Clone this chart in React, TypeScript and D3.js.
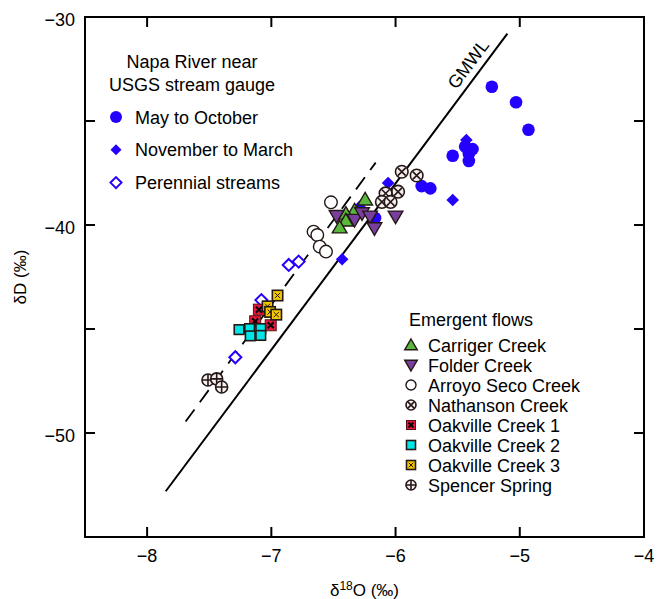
import React from 'react';
import * as d3 from 'd3';

const width = 661;
const height = 599;
const margin = { top: 17, right: 17, bottom: 62, left: 85 };
const font = 'Liberation Sans, Arial, Helvetica, sans-serif';

// axis ticks
const xTicks = [-8, -7, -6, -5, -4];
const yTicks = [-30, -35, -40, -45, -50, -55];
const yLabelTicks = [-30, -40, -50];

// Napa River near USGS stream gauge  [δ18O, δD]
const mayToOctober = [
  [-5.225, -33.35], [-5.03, -34.1], [-4.93, -35.42], [-5.54, -36.67], [-5.44, -36.23],
  [-5.38, -36.35], [-5.41, -36.59], [-5.41, -36.92], [-5.79, -38.13], [-5.72, -38.24],
  [-6.165, -39.66],
];
const novemberToMarch = [
  [-5.43, -35.91], [-6.06, -37.98], [-5.54, -38.8], [-6.43, -41.65], [-6.29, -39.12],
];
const perennialStreams = [
  [-6.86, -41.92], [-6.78, -41.76], [-7.08, -43.61], [-7.29, -46.36],
];

// Emergent flows
const carrigerCreek = [
  [-6.245, -38.77], [-6.33, -39.3], [-6.4, -39.45], [-6.4, -39.78], [-6.45, -40.11],
];
const folderCreek = [
  [-6.475, -39.57], [-6.33, -39.76], [-6.27, -39.44], [-6.205, -39.6], [-6.17, -40.16], [-6.0, -39.6],
];
const arroyoSecoCreek = [
  [-6.52, -38.91], [-6.66, -40.32], [-6.63, -40.48], [-6.61, -41.04], [-6.56, -41.28],
];
const nathansonCreek = [
  [-5.95, -37.44], [-5.83, -37.62], [-5.98, -38.4], [-6.08, -38.48], [-6.11, -38.89], [-6.04, -38.89],
];
const oakvilleCreek1 = [[-7.1, -44.07], [-7.13, -44.63], [-7.005, -44.82]];
const oakvilleCreek2 = [
  [-7.26, -45.03], [-7.175, -44.98], [-7.085, -44.98], [-7.17, -45.33], [-7.085, -45.31],
];
const oakvilleCreek3 = [[-6.95, -43.39], [-7.03, -43.91], [-7.01, -44.18], [-6.96, -44.31]];
const spencerSpring = [[-7.51, -47.45], [-7.44, -47.4], [-7.4, -47.79]];

// lines
const gmwlRange = [-7.85, -5.1]; // δD = 8 δ18O + 10
const localLine = [[-7.69, -49.45], [-6.16, -37.0]];

const BLUE = '#2400ff';
const EDGE = '#231815';

// draws one marker centred at 0,0
const Marker = ({ type, s }) => {
  switch (type) {
    case 'dot':
      return <circle r={s} fill={BLUE} />;
    case 'diamond':
      return <path d={`M0,${-s}L${s},0L0,${s}L${-s},0Z`} fill={BLUE} />;
    case 'openDiamond':
      return <path d={`M0,${-s}L${s},0L0,${s}L${-s},0Z`} fill="white" stroke={BLUE} strokeWidth={2} />;
    case 'triUp':
      return <path d={`M0,${-s}L${s * 1.05},${s * 0.8}L${-s * 1.05},${s * 0.8}Z`} fill="#58b83a" stroke={EDGE} strokeWidth={1.4} />;
    case 'triDown':
      return <path d={`M0,${s}L${s * 1.05},${-s * 0.8}L${-s * 1.05},${-s * 0.8}Z`} fill="#7a3f9d" stroke={EDGE} strokeWidth={1.4} />;
    case 'openCircle':
      return <circle r={s} fill="white" stroke={EDGE} strokeWidth={1.4} />;
    case 'circleX': {
      const k = s * 0.62;
      return (
        <g stroke={EDGE} strokeWidth={1.6}>
          <circle r={s} fill="#f7efef" />
          <path d={`M${-k},${-k}L${k},${k}M${-k},${k}L${k},${-k}`} />
        </g>
      );
    }
    case 'circlePlus':
      return (
        <g stroke={EDGE} strokeWidth={1.6}>
          <circle r={s} fill="#f7efef" />
          <path d={`M${-s},0L${s},0M0,${-s}L0,${s}`} />
        </g>
      );
    case 'redX': {
      const k = s * 0.55;
      return (
        <g>
          <rect x={-s} y={-s} width={2 * s} height={2 * s} fill="#e8173f" stroke="#5a1010" strokeWidth={1} />
          <path d={`M${-k},${-k}L${k},${k}M${-k},${k}L${k},${-k}`} stroke="black" strokeWidth={2} />
        </g>
      );
    }
    case 'cyanSq':
      return <rect x={-s} y={-s} width={2 * s} height={2 * s} fill="#00e5e8" stroke={EDGE} strokeWidth={1.6} />;
    case 'yellowX': {
      const k = s * 0.5;
      return (
        <g>
          <rect x={-s} y={-s} width={2 * s} height={2 * s} fill="#f2c800" stroke={EDGE} strokeWidth={1.6} />
          <path d={`M${-k},${-k}L${k},${k}M${-k},${k}L${k},${-k}`} stroke={EDGE} strokeWidth={1} />
        </g>
      );
    }
    default:
      return null;
  }
};

const napaSeries = [
  { name: 'May to October', type: 'dot', data: mayToOctober, s: 6.3, ls: 6 },
  { name: 'November to March', type: 'diamond', data: novemberToMarch, s: 6.3, ls: 5.5 },
  { name: 'Perennial streams', type: 'openDiamond', data: perennialStreams, s: 6, ls: 5.5 },
];

const emergentSeries = [
  { name: 'Carriger Creek', type: 'triUp', data: carrigerCreek, s: 7, ls: 6 },
  { name: 'Folder Creek', type: 'triDown', data: folderCreek, s: 7, ls: 6 },
  { name: 'Arroyo Seco Creek', type: 'openCircle', data: arroyoSecoCreek, s: 6.3, ls: 5 },
  { name: 'Nathanson Creek', type: 'circleX', data: nathansonCreek, s: 6.3, ls: 5 },
  { name: 'Oakville Creek 1', type: 'redX', data: oakvilleCreek1, s: 5.5, ls: 4.5 },
  { name: 'Oakville Creek 2', type: 'cyanSq', data: oakvilleCreek2, s: 4.8, ls: 4.5 },
  { name: 'Oakville Creek 3', type: 'yellowX', data: oakvilleCreek3, s: 5.2, ls: 4.5 },
  { name: 'Spencer Spring', type: 'circlePlus', data: spencerSpring, s: 6, ls: 5 },
];

export default function App() {
  const x = d3.scaleLinear().domain([-8.5, -4]).range([margin.left, width - margin.right]);
  const y = d3.scaleLinear().domain([-55, -30]).range([height - margin.bottom, margin.top]);

  const line = d3.line().x((d) => x(d[0])).y((d) => y(d[1]));
  const gmwl = gmwlRange.map((v) => [v, 8 * v + 10]);

  // angle of the GMWL on screen for the rotated label
  const ang = (Math.atan2(y(gmwl[1][1]) - y(gmwl[0][1]), x(gmwl[1][0]) - x(gmwl[0][0])) * 180) / Math.PI;
  const labelX = -5.33;

  const x0 = margin.left;
  const x1 = width - margin.right;
  const y0 = margin.top;
  const y1 = height - margin.bottom;
  const tickLen = 10;

  return (
    <svg width={width} height={height} style={{ position: 'absolute', left: 0, top: 0 }} fontFamily={font}>
      <rect width={width} height={height} fill="white" />

      {/* lines */}
      <path d={line(gmwl)} stroke="black" strokeWidth={2} fill="none" />
      <path d={line(localLine)} stroke="black" strokeWidth={1.8} fill="none" strokeDasharray="15,9" />
      <g transform={`translate(${x(labelX)},${y(8 * labelX + 10)}) rotate(${ang})`}>
        <text y={-7} textAnchor="middle" fontSize={18}>GMWL</text>
      </g>

      {/* points */}
      {napaSeries.map((s) => (
        <g key={s.name}>
          {s.data.map((d, i) => (
            <g key={i} transform={`translate(${x(d[0])},${y(d[1])})`}>
              <Marker type={s.type} s={s.s} />
            </g>
          ))}
        </g>
      ))}
      {emergentSeries.map((s) => (
        <g key={s.name}>
          {s.data.map((d, i) => (
            <g key={i} transform={`translate(${x(d[0])},${y(d[1])})`}>
              <Marker type={s.type} s={s.s} />
            </g>
          ))}
        </g>
      ))}

      {/* frame and ticks */}
      <rect x={x0} y={y0} width={x1 - x0} height={y1 - y0} fill="none" stroke="black" strokeWidth={2} />
      {xTicks.slice(0, -1).map((t) => (
        <g key={t} stroke="black" strokeWidth={2}>
          <line x1={x(t)} x2={x(t)} y1={y1} y2={y1 - tickLen} />
          <line x1={x(t)} x2={x(t)} y1={y0} y2={y0 + tickLen} />
        </g>
      ))}
      {yTicks.slice(1, -1).map((t) => (
        <g key={t} stroke="black" strokeWidth={2}>
          <line x1={x0} x2={x0 + tickLen} y1={y(t)} y2={y(t)} />
          <line x1={x1} x2={x1 - tickLen} y1={y(t)} y2={y(t)} />
        </g>
      ))}
      {xTicks.map((t) => (
        <text key={t} x={x(t)} y={y1 + 25} textAnchor="middle" fontSize={18}>
          {'\u2212' + Math.abs(t)}
        </text>
      ))}
      {yLabelTicks.map((t) => (
        <text key={t} x={x0 - 10} y={y(t) + 9} textAnchor="end" fontSize={18}>
          {'\u2212' + Math.abs(t)}
        </text>
      ))}

      {/* axis titles */}
      <text x={(x0 + x1) / 2} y={596} textAnchor="middle" fontSize={17}>
        δ<tspan dy={-6} fontSize={12}>18</tspan>
        <tspan dy={6}>O (‰)</tspan>
      </text>
      <text transform={`translate(26,${(y0 + y1) / 2}) rotate(-90)`} textAnchor="middle" fontSize={17}>
        δD (‰)
      </text>

      {/* legend: Napa River */}
      <text x={192} y={68} textAnchor="middle" fontSize={18}>Napa River near</text>
      <text x={192} y={91} textAnchor="middle" fontSize={18}>USGS stream gauge</text>
      {napaSeries.map((s, i) => (
        <g key={s.name} transform={`translate(0,${117 + i * 32.8})`}>
          <g transform="translate(116,0)">
            <Marker type={s.type} s={s.ls} />
          </g>
          <text x={135} y={6.5} fontSize={18}>{s.name}</text>
        </g>
      ))}

      {/* legend: Emergent flows */}
      <text x={409} y={326} fontSize={18}>Emergent flows</text>
      {emergentSeries.map((s, i) => (
        <g key={s.name} transform={`translate(0,${345 + i * 20})`}>
          <g transform="translate(411,0)">
            <Marker type={s.type} s={s.ls} />
          </g>
          <text x={428} y={6.5} fontSize={18}>{s.name}</text>
        </g>
      ))}
    </svg>
  );
}
